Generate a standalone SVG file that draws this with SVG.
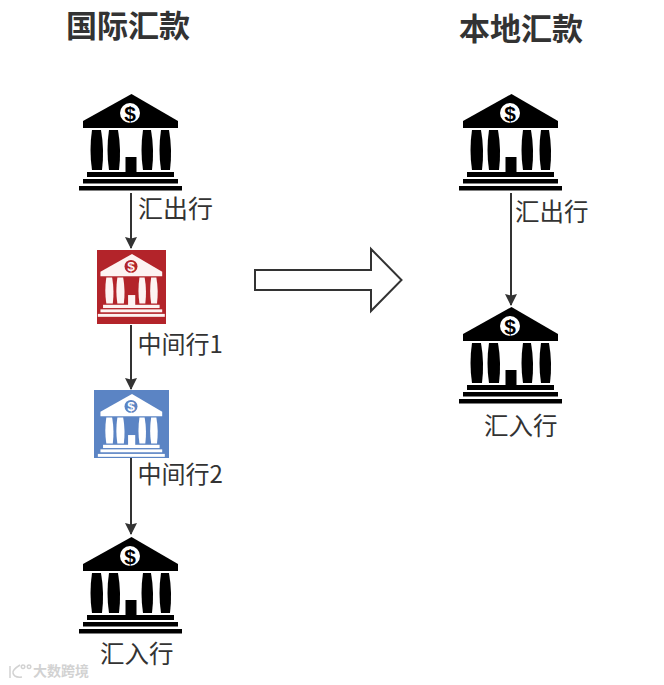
<svg xmlns="http://www.w3.org/2000/svg" width="664" height="685" viewBox="0 0 664 685">
<style>
text{font-family:"Noto Sans CJK SC","Noto Sans",sans-serif;fill:#333}
.title{font-size:31px;font-weight:700}
.label{font-size:24.500px;font-weight:400}
.mid{font-size:24px}
.wm{font-size:14px;fill:#d2d2d2;font-weight:700}
.conn{stroke:#333;stroke-width:2;fill:none;marker-end:url(#arrow)}
.fg{fill:var(--fg)}
.bg{fill:var(--bg)}
.dollar{fill:var(--fg);font-family:"Liberation Sans",sans-serif;font-size:21px;font-weight:700;text-anchor:middle}
</style>
<defs>
<marker id="arrow" viewBox="0 0 12 16" markerUnits="userSpaceOnUse" markerWidth="12" markerHeight="16" refX="11" refY="8" orient="auto">
<path d="M0 2L12 8L0 14L1.500 8Z" fill="#333"/>
</marker>
<g id="bank">
<path class="fg" d="M131.500 94L178 121V128H83V121Z"/>
<circle class="bg" cx="130" cy="113" r="10"/>
<text class="dollar" x="130" y="120.500">$</text>
<path class="fg" d="M92 130H101Q104.500 150 102 170H92Q89 150 92 130Z"/>
<path class="fg" d="M109 130H118Q121.500 150 119 170H109Q106 150 109 130Z"/>
<path class="fg" d="M143 130H151Q154.500 150 152 170H143Q140 150 143 130Z"/>
<path class="fg" d="M161 130H169Q172.500 150 170 170H161Q158 150 161 130Z"/>
<rect class="fg" x="125.500" y="157" width="11" height="16"/>
<rect class="fg" x="87" y="172" width="87" height="5"/>
<rect class="fg" x="83" y="179" width="95" height="4.500"/>
<rect class="fg" x="79" y="186" width="103" height="4.500"/>
</g>
</defs>
<rect width="664" height="685" fill="#fff"/>
<g id="titles">
<text class="title" x="66" y="37">国际汇款</text>
<text class="title" x="459" y="40">本地汇款</text>
</g>
<g id="connectors">
<path class="conn" d="M131 193V248"/>
<path class="conn" d="M131 325V389"/>
<path class="conn" d="M131 458V534"/>
<path class="conn" d="M511 193V305"/>
<path fill="#fff" stroke="#333" stroke-width="2" d="M255 270H371V249L401.500 280L371 311V290H255Z"/>
</g>
<g id="intl-sender" style="--fg:#000;--bg:#fff">
<use href="#bank"/>
</g>
<g id="intl-sender-label"><text class="label" x="138" y="218" style="font-size:25px">汇出行</text></g>
<g id="intermediary-1" style="--fg:#fdf3f2;--bg:#b3242a">
<rect x="97" y="250" width="69" height="74" fill="#b3242a"/>
<use href="#bank" transform="translate(46.500 193) scale(.65)"/>
<text class="label mid" x="137.500" y="353">中间行1</text>
</g>
<g id="intermediary-2" style="--fg:#fff;--bg:#5b84c4">
<rect x="94" y="390" width="75" height="68" fill="#5b84c4"/>
<use href="#bank" transform="translate(46.500 333) scale(.65)"/>
<text class="label mid" x="137.500" y="483">中间行2</text>
</g>
<g id="intl-receiver" style="--fg:#000;--bg:#fff">
<use href="#bank" transform="translate(0 443)"/>
<text class="label" x="100" y="663">汇入行</text>
</g>
<g id="local-sender" style="--fg:#000;--bg:#fff">
<use href="#bank" transform="translate(380 0)"/>
<text class="label" x="515" y="221">汇出行</text>
</g>
<g id="local-receiver" style="--fg:#000;--bg:#fff">
<use href="#bank" transform="translate(380 213)"/>
<text class="label" x="484" y="435">汇入行</text>
</g>
<g id="watermark">
<text class="wm" x="33" y="676">大数跨境</text>
<path d="M10 666V678M20 665Q12 670 13 673Q14 678 22 677M23 665a1.800 1.800 0 1 0 .1 0M29 665a1.800 1.800 0 1 0 .1 0" fill="none" stroke="#d2d2d2" stroke-width="1.500"/>
</g>
</svg>
